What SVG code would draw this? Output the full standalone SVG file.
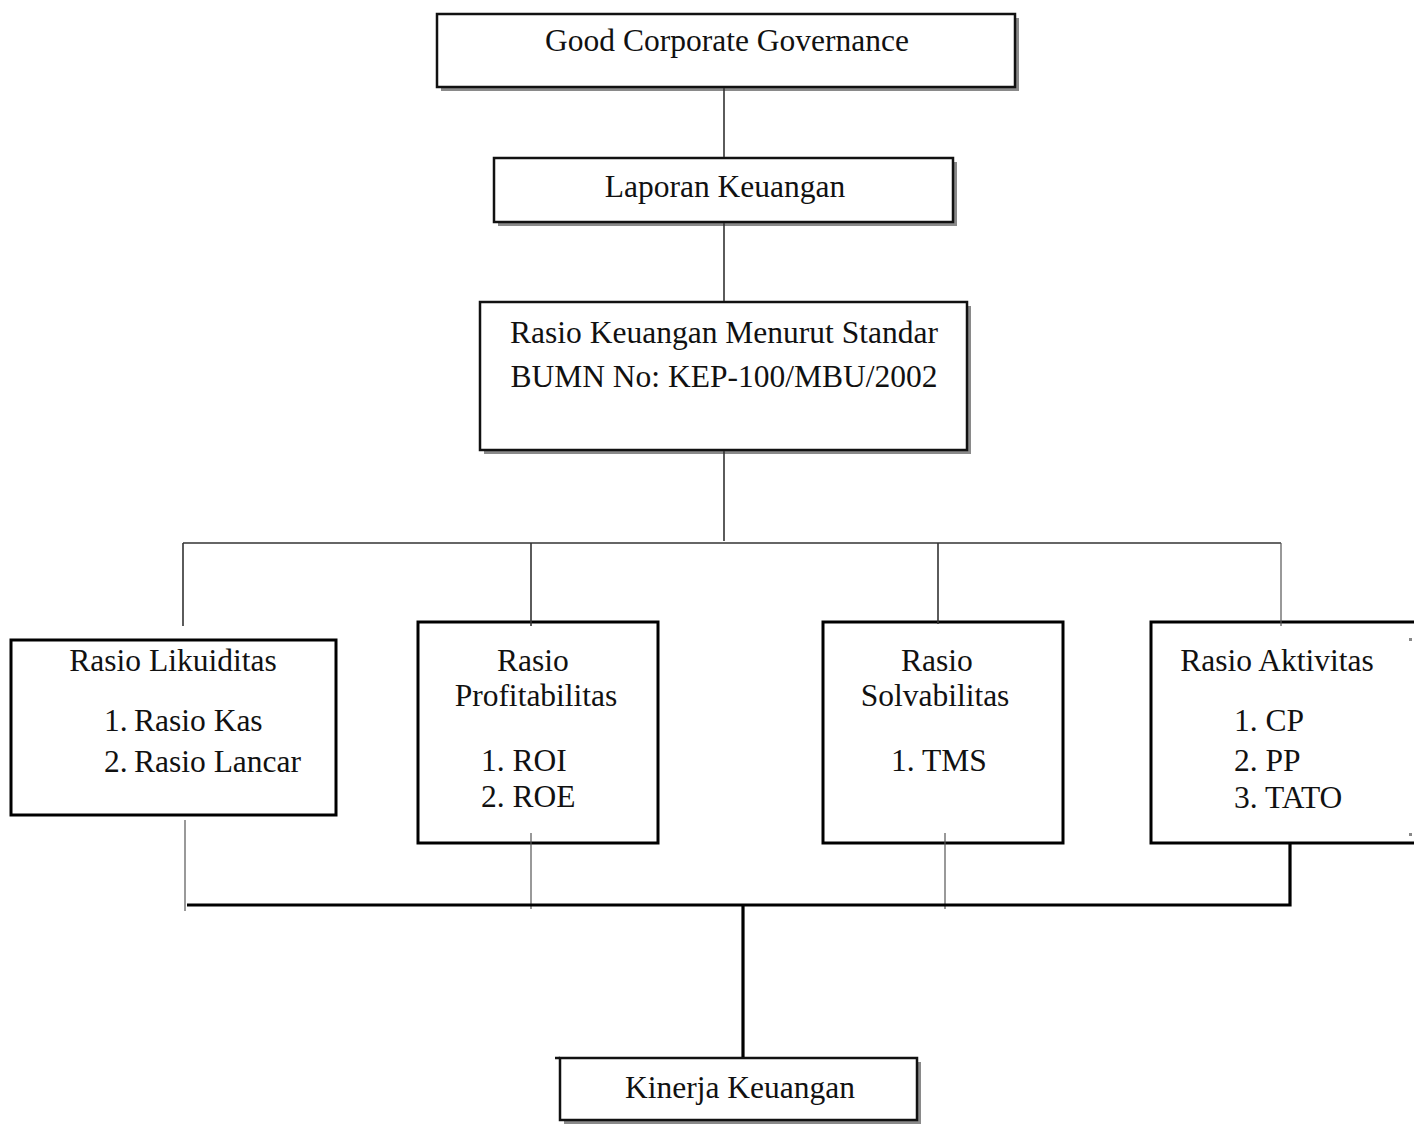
<svg xmlns="http://www.w3.org/2000/svg" width="1414" height="1130" viewBox="0 0 1414 1130">
<style>
.t{font-family:"Liberation Serif","Times New Roman",serif;font-size:31.5px;fill:#111}
.c{text-anchor:middle}
.box{fill:#fff;stroke:#111;stroke-width:2.5}
.boxb{fill:#fff;stroke:#000;stroke-width:3}
.sh{fill:#8a8a8a}
.ln{stroke:#333;stroke-width:1.6;fill:none}
.lt{stroke:#555;stroke-width:1.2;fill:none}
.lk{stroke:#000;stroke-width:3.2;fill:none}
</style>
<rect width="1414" height="1130" fill="#fff"/>
<g id="gcg">
<rect class="sh" x="441" y="18" width="578" height="73"/>
<rect class="box" x="437" y="14" width="578" height="73"/>
<text class="t c" x="727" y="51">Good Corporate Governance</text>
</g>
<g id="laporan">
<rect class="sh" x="498" y="162" width="459" height="64"/>
<rect class="box" x="494" y="158" width="459" height="64"/>
<text class="t c" x="725" y="197">Laporan Keuangan</text>
</g>
<g id="rasio-keuangan">
<rect class="sh" x="484" y="306" width="487" height="148"/>
<rect class="box" x="480" y="302" width="487" height="148"/>
<text class="t c" x="724" y="343">Rasio Keuangan Menurut Standar</text>
<text class="t c" x="724" y="387">BUMN No: KEP-100/MBU/2002</text>
</g>
<g id="likuiditas">
<rect class="boxb" x="11" y="640" width="325" height="175"/>
<text class="t c" x="173" y="671">Rasio Likuiditas</text>
<text class="t" x="104" y="731">1.</text><text class="t" x="134" y="731">Rasio Kas</text>
<text class="t" x="104" y="772">2.</text><text class="t" x="134" y="772">Rasio Lancar</text>
</g>
<g id="profitabilitas">
<rect class="boxb" x="418" y="622" width="240" height="221"/>
<text class="t c" x="533" y="671">Rasio</text>
<text class="t c" x="536" y="706">Profitabilitas</text>
<text class="t" x="481" y="771">1. ROI</text>
<text class="t" x="481" y="807">2. ROE</text>
</g>
<g id="solvabilitas">
<rect class="boxb" x="823" y="622" width="240" height="221"/>
<text class="t c" x="937" y="671">Rasio</text>
<text class="t c" x="935" y="706">Solvabilitas</text>
<text class="t" x="891" y="771">1. TMS</text>
</g>
<g id="aktivitas">
<path class="boxb" d="M1416,622 H1151 V843 H1416"/>
<text class="t c" x="1277" y="671">Rasio Aktivitas</text>
<text class="t" x="1234" y="731">1. CP</text>
<text class="t" x="1234" y="771">2. PP</text>
<text class="t" x="1234" y="808">3. TATO</text>
<rect x="1409" y="638" width="3" height="3" fill="#888"/>
<rect x="1409" y="833" width="3" height="3" fill="#888"/>
</g>
<g id="kinerja">
<rect class="sh" x="564" y="1062" width="357" height="62"/>
<rect class="box" x="560" y="1058" width="357" height="62"/>
<line stroke="#111" stroke-width="2.5" x1="555" y1="1058" x2="560" y2="1058"/>
<text class="t c" x="740" y="1098">Kinerja Keuangan</text>
</g>
<g id="connectors">
<line class="ln" x1="724" y1="88" x2="724" y2="157"/>
<line class="ln" x1="724" y1="223" x2="724" y2="301"/>
<line class="ln" x1="724" y1="451" x2="724" y2="541"/>
<line class="ln" x1="183" y1="543" x2="1281" y2="543"/>
<line class="ln" x1="183" y1="543" x2="183" y2="626"/>
<line class="ln" x1="531" y1="543" x2="531" y2="626"/>
<line class="ln" x1="938" y1="543" x2="938" y2="624"/>
<line class="lt" x1="1281" y1="543" x2="1281" y2="626"/>
<line class="lt" x1="185" y1="820" x2="185" y2="911"/>
<line class="lt" x1="531" y1="833" x2="531" y2="909"/>
<line class="lt" x1="945" y1="833" x2="945" y2="909"/>
<path class="lk" d="M187,905 H1290 V843"/>
<line class="lk" x1="743" y1="905" x2="743" y2="1057"/>
</g>
</svg>
